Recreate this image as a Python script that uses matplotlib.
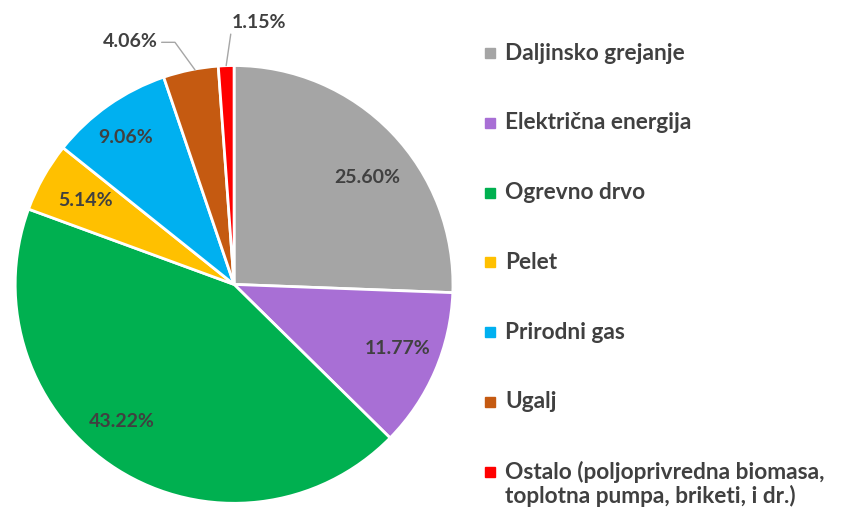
import matplotlib.pyplot as plt
import numpy as np

# shares of heating sources (%), clockwise from 12 o'clock
labels = ["Daljinsko grejanje", "Električna energija", "Ogrevno drvo", "Pelet",
          "Prirodni gas", "Ugalj",
          "Ostalo (poljoprivredna biomasa,\ntoplotna pumpa, briketi, i dr.)"]
shares = [25.60, 11.77, 43.22, 5.14, 9.06, 4.06, 1.15]
colors = ["#A5A5A5", "#A86FD5", "#00B050", "#FFC000", "#00B0F0", "#C55A11", "#FF0000"]

txt_color = "#404040"
font = ["Lato", "DejaVu Sans"]
pct_size = 14

fig = plt.figure(figsize=(8.42, 5.12), dpi=100)
ax = fig.add_axes([0.018, 0.017, 0.52, 0.855])

wedges, _ = ax.pie(shares, colors=colors, startangle=90, counterclock=False,
                   wedgeprops=dict(edgecolor="white", linewidth=2))
ax.set_xlim(-1, 1)
ax.set_ylim(-1, 1)
ax.set_aspect("equal")

# inside labels: distance from centre as fraction of radius, plus small angle nudge
inner = {0: (0.78, -5), 1: (0.80, 2), 2: (0.81, -7), 3: (0.78, 0), 4: (0.835, 1.5)}
for i, w in enumerate(wedges):
    if i in inner:
        d, nudge = inner[i]
        ang = np.deg2rad((w.theta1 + w.theta2) / 2 + nudge)
        ax.text(d * np.cos(ang), d * np.sin(ang), f"{shares[i]:.2f}%",
                ha="center", va="center", fontsize=pct_size, fontweight="bold",
                color=txt_color, family=font)

# outside labels with leader lines
w = wedges[5]
ang = np.deg2rad((w.theta1 + w.theta2) / 2)
ax.annotate(f"{shares[5]:.2f}%", xy=(np.cos(ang) + 0.02, np.sin(ang)),
            xytext=(-0.35, 1.11), ha="right", va="center", fontsize=pct_size,
            fontweight="bold", color=txt_color, family=font, annotation_clip=False,
            arrowprops=dict(arrowstyle="-", color="#A6A6A6", lw=1,
                            shrinkA=1, shrinkB=0,
                            connectionstyle="angle,angleA=0,angleB=-54,rad=0",
                            relpos=(1, 0.45)))
w = wedges[6]
ang = np.deg2rad((w.theta1 + w.theta2) / 2)
ax.annotate(f"{shares[6]:.2f}%", xy=(np.cos(ang), np.sin(ang)),
            xytext=(-0.01, 1.195), ha="left", va="center", fontsize=pct_size,
            fontweight="bold", color=txt_color, family=font, annotation_clip=False,
            arrowprops=dict(arrowstyle="-", color="#A6A6A6", lw=1,
                            shrinkA=0, shrinkB=0, relpos=(0, 0.3)))

# legend drawn by hand to get the wide Excel spacing
y0 = 1 - 53 / 512
step = 69.8 / 512
for i, (lab, c) in enumerate(zip(labels, colors)):
    y = y0 - i * step
    fig.patches.append(plt.Rectangle((485 / 842, y - 5 / 512), 10 / 842, 10 / 512,
                                     transform=fig.transFigure, color=c))
    fig.text(505 / 842, y + (11 / 512 if "\n" in lab else 0), lab, ha="left",
             va="center" if "\n" not in lab else "top",
             fontsize=16.3, fontweight="bold", color=txt_color, family=font,
             linespacing=1.1)

fig.savefig("out.png", dpi=100)
